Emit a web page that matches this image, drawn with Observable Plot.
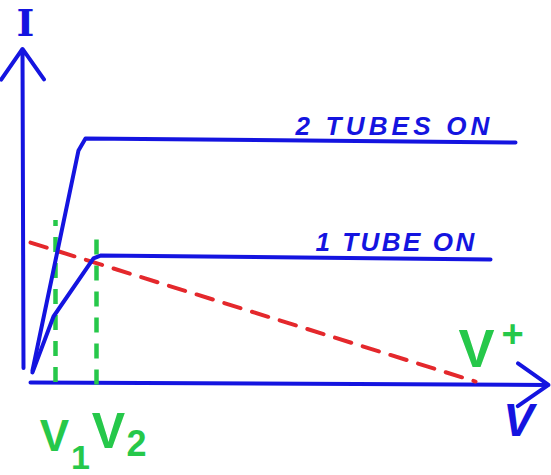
<!DOCTYPE html>
<html>
<head>
<meta charset="utf-8">
<script src="https://cdn.jsdelivr.net/npm/d3@7"></script>
<script src="https://cdn.jsdelivr.net/npm/@observablehq/plot@0.6"></script>
<style>
  body { margin: 0; background: #fff; }
</style>
</head>
<body>
<div id="chart"></div>
<script>
// I–V characteristic: one vs two tubes conducting, with the load line.
const twoTubesV = [0.04, 0.96, 1.1, 3.4, 9.7];
const twoTubesI = [0.5, 9.67, 10.17, 10.13, 10.0];
const oneTubeV = [0.04, 0.46, 1.26, 1.4, 9.2];
const oneTubeI = [0.42, 2.75, 5.17, 5.29, 5.13];
const loadV = [0, 8.9];          // load line from I-axis to V+
const loadI = [5.83, 0.04];
const v1 = 0.5, v2 = 1.32, vPlus = 8.9;
const v1Top = 6.75, v2Top = 6.25;
const curveLabels = ["2 TUBES ON", "1 TUBE ON"];
const curveLabelV = [5.3, 5.7];
const curveLabelI = [10.3, 5.5];

const blue = "#1414e0", green = "#26c84a", red = "#e4282c";

const pts = (vs, is) => vs.map((v, k) => ({V: v, I: is[k]}));
const twoTubes = pts(twoTubesV, twoTubesI);
const oneTube = pts(oneTubeV, oneTubeI);
const load = pts(loadV, loadI);
const labels = curveLabels.map((t, k) => ({t, V: curveLabelV[k], I: curveLabelI[k]}));

const line = {x: "V", y: "I", stroke: blue, strokeWidth: 4, strokeLinecap: "round", strokeLinejoin: "round"};
const hand = {fontFamily: "Liberation Sans", fontWeight: "bold", lineAnchor: "bottom"};
const arrowStyle = {x1: "x1", y1: "y1", x2: "x2", y2: "y2", stroke: blue, strokeWidth: 4, headLength: 14, headAngle: 70};

const chart = Plot.plot({
  width: 551,
  height: 475,
  marginLeft: 30,
  marginRight: 21,
  marginTop: 46,
  marginBottom: 93,
  x: {domain: [0, 10], axis: null},
  y: {domain: [0, 14], axis: null},
  marks: [
    // axes
    Plot.arrow([{x1: -0.14, y1: 0.6, x2: -0.16, y2: 13.9}], arrowStyle),
    Plot.arrow([{x1: 0, y1: 0, x2: 10.36, y2: -0.1}], arrowStyle),
    // V1, V2 markers
    Plot.ruleX([v1], {y1: 0, y2: v1Top, stroke: green, strokeWidth: 4.5, strokeDasharray: "15,11"}),
    Plot.ruleX([v2], {y1: -0.1, y2: v2Top, stroke: green, strokeWidth: 4.5, strokeDasharray: "15,11"}),
    // load line
    Plot.line(load, {x: "V", y: "I", stroke: red, strokeWidth: 4, strokeDasharray: "17,12"}),
    // characteristics
    Plot.line(twoTubes, line),
    Plot.line(oneTube, line),
    Plot.text(labels, {
      x: "V", y: "I", text: "t", textAnchor: "start", fill: blue,
      fontSize: 26, fontStyle: "italic", ...hand
    }),
    // axis titles
    Plot.text(["I"], {x: -0.1, y: 14, text: d => d, fill: blue, fontSize: 38,
      fontFamily: "DejaVu Serif", fontWeight: "bold", lineAnchor: "bottom", dy: -11}),
    Plot.text(["V"], {x: 9.76, y: 0, text: d => d, fill: blue, fontSize: 46,
      fontStyle: "italic", ...hand, dy: 53}),
    // voltage labels
    Plot.text([v1], {x: d => d, y: 0, text: () => "V", dx: -1, dy: 68, fill: green, fontSize: 44, ...hand}),
    Plot.text([v1], {x: d => d, y: 0, text: () => "1", dx: 25, dy: 86, fill: green, fontSize: 34, ...hand}),
    Plot.text([v2], {x: d => d, y: 0, text: () => "V", dx: 12, dy: 65, fill: green, fontSize: 50, ...hand}),
    Plot.text([v2], {x: d => d, y: 0, text: () => "2", dx: 40, dy: 73, fill: green, fontSize: 36, ...hand}),
    Plot.text([vPlus], {x: d => d, y: 0, text: () => "V", dx: 1, dy: -16, fill: green, fontSize: 54, ...hand}),
    Plot.text([vPlus], {x: d => d, y: 0, text: () => "+", dx: 37, dy: -36, fill: green, fontSize: 38, ...hand})
  ]
});

// widen the hand-lettered curve labels
const spacing = {"2 TUBES ON": "4.2px", "1 TUBE ON": "2.5px"};
d3.select(chart).selectAll("text")
  .filter(function () { return this.textContent in spacing; })
  .style("letter-spacing", function () { return spacing[this.textContent]; });

document.getElementById("chart").append(chart);
</script>
</body>
</html>
